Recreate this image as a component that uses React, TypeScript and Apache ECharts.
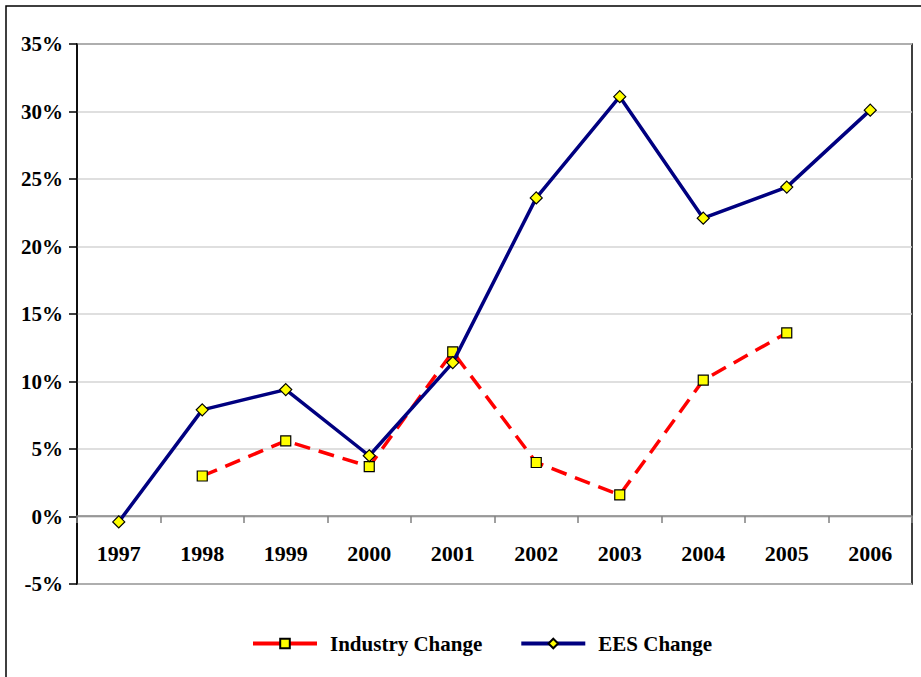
import React, { useEffect, useRef } from "react";
import * as echarts from "echarts";

const years = ["1997", "1998", "1999", "2000", "2001", "2002", "2003", "2004", "2005", "2006"];
const industryChange = [null, 3.0, 5.6, 3.7, 12.2, 4.0, 1.6, 10.1, 13.6, null];
const eesChange = [-0.4, 7.9, 9.4, 4.5, 11.4, 23.6, 31.1, 22.1, 24.4, 30.1];

const FONT = '"Liberation Serif", "Times New Roman", serif';

export default function App() {
  const ref = useRef<HTMLDivElement>(null);

  useEffect(() => {
    if (!ref.current) return;
    const chart = echarts.init(ref.current, null, { renderer: "svg" });
    chart.setOption({
      animation: false,
      backgroundColor: "#ffffff",
      graphic: [
        {
          type: "rect",
          shape: { x: 6, y: 6, width: 1000, height: 1000 },
          style: { fill: "none", stroke: "#000", lineWidth: 1.5 },
          z: 0,
        },
      ],
      grid: {
        left: 77,
        right: 9,
        top: 44,
        bottom: 93,
        show: true,
        borderColor: "#000",
        borderWidth: 1.5,
        containLabel: false,
      },
      legend: {
        left: 246,
        top: 628,
        itemWidth: 64,
        itemHeight: 12,
        itemGap: 37,
        lineStyle: { type: "solid", width: 4 },
        textStyle: {
          fontFamily: FONT,
          fontWeight: "bold",
          fontSize: 21,
          color: "#000",
          padding: [0, 0, 0, 8],
        },
        data: ["Industry Change", "EES Change"],
      },
      xAxis: {
        type: "category",
        data: years,
        boundaryGap: true,
        // the category axis sits on the 0% line, 5 percentage points above the plot's bottom edge
        offset: -68,
        axisLine: { onZero: false, lineStyle: { color: "#808080", width: 1.5 } },
        axisTick: { show: true, length: 7, inside: false, lineStyle: { color: "#808080", width: 1.5 } },
        axisLabel: {
          margin: 26,
          fontFamily: FONT,
          fontWeight: "bold",
          fontSize: 22,
          color: "#000",
        },
        splitLine: { show: false },
      },
      yAxis: {
        type: "value",
        min: -5,
        max: 35,
        interval: 5,
        axisLine: { show: true, onZero: false, lineStyle: { color: "#000", width: 1.5 } },
        axisTick: { show: true, length: 8, lineStyle: { color: "#000", width: 1.5 } },
        axisLabel: {
          margin: 14,
          formatter: "{value}%",
          fontFamily: FONT,
          fontWeight: "bold",
          fontSize: 21,
          color: "#000",
        },
        splitLine: { show: true, lineStyle: { color: "#d4d4d4", width: 1.5 } },
      },
      series: [
        {
          name: "Industry Change",
          type: "line",
          data: industryChange,
          connectNulls: false,
          symbol: "rect",
          symbolSize: 10,
          lineStyle: { color: "#ff0000", width: 3.5, type: [16, 9] },
          itemStyle: { color: "#ffff00", borderColor: "#000", borderWidth: 1.2 },
          z: 3,
        },
        {
          name: "EES Change",
          type: "line",
          data: eesChange,
          symbol: "diamond",
          symbolSize: 12,
          lineStyle: { color: "#000080", width: 3.5 },
          itemStyle: { color: "#ffff00", borderColor: "#000", borderWidth: 1.2 },
          z: 4,
        },
      ],
    });
    return () => chart.dispose();
  }, []);

  return <div ref={ref} style={{ width: 921, height: 677, position: "absolute", left: 0, top: 0 }} />;
}
